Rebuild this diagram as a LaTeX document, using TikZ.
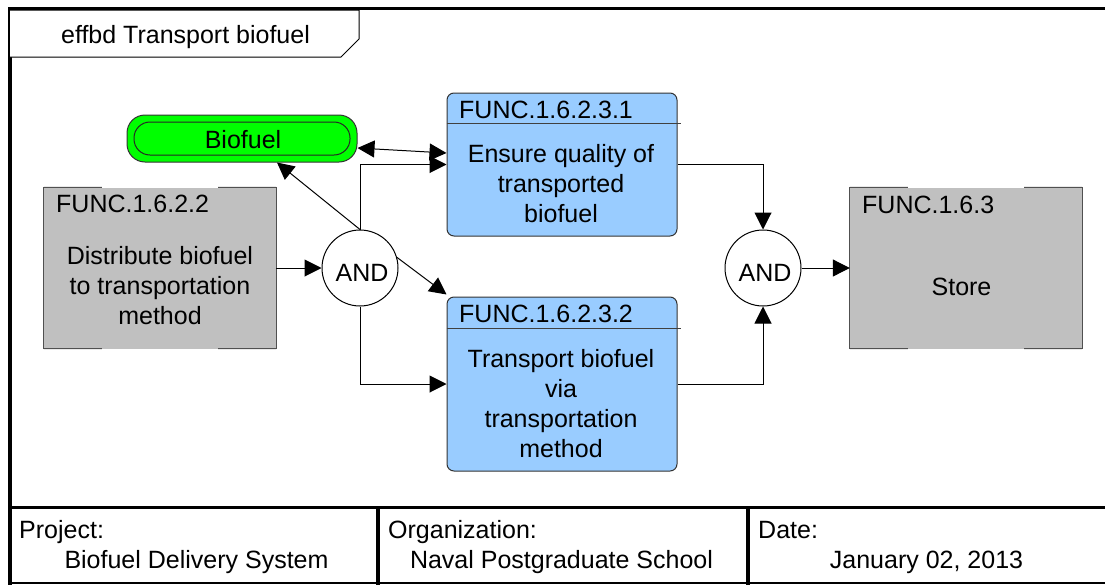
\documentclass[tikz,border=0pt]{standalone}
\usepackage{fontspec}
\setmainfont{Liberation Sans}
\usetikzlibrary{arrows.meta,calc}
\definecolor{fillgray}{HTML}{C0C0C0}
\definecolor{edgegray}{HTML}{505050}
\definecolor{fblue}{HTML}{99CCFF}
\definecolor{fgreen}{HTML}{00FF00}
\begin{document}
\begin{tikzpicture}[x=1pt,y=-1pt,
  font=\fontsize{25}{29.8}\selectfont,
  conn/.style={line width=1pt,-{Triangle[length=17pt,width=17pt]}},
  conntwo/.style={line width=1pt,{Triangle[length=17pt,width=17pt]}-{Triangle[length=17pt,width=17pt]}},
  graybox/.style={rectangle,fill=fillgray,draw=none,minimum width=232pt,minimum height=161pt,inner sep=0pt},
  gedge/.style={draw=edgegray,line width=1pt},
  bluebox/.style={rectangle,rounded corners=7pt,fill=fblue,draw=black!80,line width=1pt,minimum width=230pt,inner sep=0pt},
  andnode/.style={circle,draw=black,line width=1pt,fill=white,minimum size=76pt,inner sep=0pt},
  tl/.style={anchor=base west,inner sep=0pt},
  tc/.style={anchor=base,inner sep=0pt,align=center},
  frame/.style={line width=3.5pt,black},
]
\useasboundingbox (0,0) rectangle (1105,584);
% frame
\draw[frame] (10,586) -- (10,8.5) -- (1107,8.5);
\draw[frame] (10,507.5) -- (1107,507.5);
\draw[frame] (378,507.5) -- (378,586);
\draw[frame] (748,507.5) -- (748,586);
\draw[line width=1.2pt] (10,583) -- (1107,583);
% title tab
\draw[line width=1pt,fill=white] (10,10) -- (359,10) -- (359,39) -- (341,57) -- (10,57);
\node[tc] (title) at (185.5,43) {effbd Transport biofuel};

% biofuel item
\node[rectangle,rounded corners=18pt,fill=fgreen,draw=black!80,line width=1pt,minimum width=230pt,minimum height=47pt,inner sep=0pt] (bio) at (242,138.5) {};
\node[rectangle,rounded corners=16pt,draw=black!85,line width=1pt,minimum width=216pt,minimum height=33pt,inner sep=0pt] (bioin) at (242,138.5) {};
\node[tc] (biot) at (243,148) {Biofuel};

% gray function left
\node[graybox] (g1) at (160,268) {};
\draw[gedge] (g1.north west) -- (g1.south west);
\draw[gedge] (g1.north east) -- (g1.south east);
\draw[gedge] (g1.north west) -- ($(g1.north west)!0.25!(g1.north east)$);
\draw[gedge] (g1.north east) -- ($(g1.north east)!0.25!(g1.north west)$);
\draw[gedge] (g1.south west) -- ($(g1.south west)!0.25!(g1.south east)$);
\draw[gedge] (g1.south east) -- ($(g1.south east)!0.25!(g1.south west)$);
\node[tl] (g1h) at (56,212) {FUNC.1.6.2.2};
\node[tc] (g1t) at (160,324) {Distribute biofuel\\to transportation\\method};

% gray function right
\node[graybox] (g2) at (966,268) {};
\draw[gedge] (g2.north west) -- (g2.south west);
\draw[gedge] (g2.north east) -- (g2.south east);
\draw[gedge] (g2.north west) -- ($(g2.north west)!0.25!(g2.north east)$);
\draw[gedge] (g2.north east) -- ($(g2.north east)!0.25!(g2.north west)$);
\draw[gedge] (g2.south west) -- ($(g2.south west)!0.25!(g2.south east)$);
\draw[gedge] (g2.south east) -- ($(g2.south east)!0.25!(g2.south west)$);
\node[tl] (g2h) at (862,213) {FUNC.1.6.3};
\node[tc] (g2t) at (961.5,295) {Store};

% blue functions
\node[bluebox,minimum height=143pt] (b1) at (562,164.5) {};
\draw[line width=1pt,black!75] ($(b1.north west)+(0,31)$) -- ($(b1.north east)+(3,31)$);
\node[tl] (b1h) at (459,118) {FUNC.1.6.2.3.1};
\node[tc] (b1t) at (561,222) {Ensure quality of\\transported\\biofuel};

\node[bluebox,minimum height=174pt] (b2) at (562,384) {};
\draw[line width=1pt,black!75] ($(b2.north west)+(0,32)$) -- ($(b2.north east)+(3,32)$);
\node[tl] (b2h) at (459,322) {FUNC.1.6.2.3.2};
\node[tc] (b2t) at (561,457) {Transport biofuel\\via\\transportation\\method};

% AND nodes
\node[andnode] (and1) at (360,268) {};
\node[tc] (and1t) at (362,281) {AND};
\node[andnode] (and2) at (763,268) {};
\node[tc] (and2t) at (765,281) {AND};

% connectors
\draw[conn] (g1.east) -- (and1.west);
\draw[conn] (and1.north) |- (b1.west);
\draw[conn] (and1.south) |- (b2.west);
\draw[conn] (and1.north) -- ([xshift=35pt]bio.south);
\draw[conn] (and1.16) -- ([yshift=2pt]b2.north west);
\draw[conntwo] ([yshift=-9.5pt]bio.east) -- ([yshift=11.5pt]b1.west);
\draw[conn] (b1.east) -| (and2.north);
\draw[conn] (b2.east) -| (and2.south);
\draw[conn] (and2.east) -- (g2.west);

% title block
\node[tl] (projl) at (19,538) {Project:};
\node[tc] (projv) at (196.5,568) {Biofuel Delivery System};
\node[tl] (orgl) at (388,538) {Organization:};
\node[tc] (orgv) at (561.5,568) {Naval Postgraduate School};
\node[tl] (datel) at (758,538) {Date:};
\node[tc] (datev) at (926.5,568) {January 02, 2013};
\end{tikzpicture}
\end{document}
